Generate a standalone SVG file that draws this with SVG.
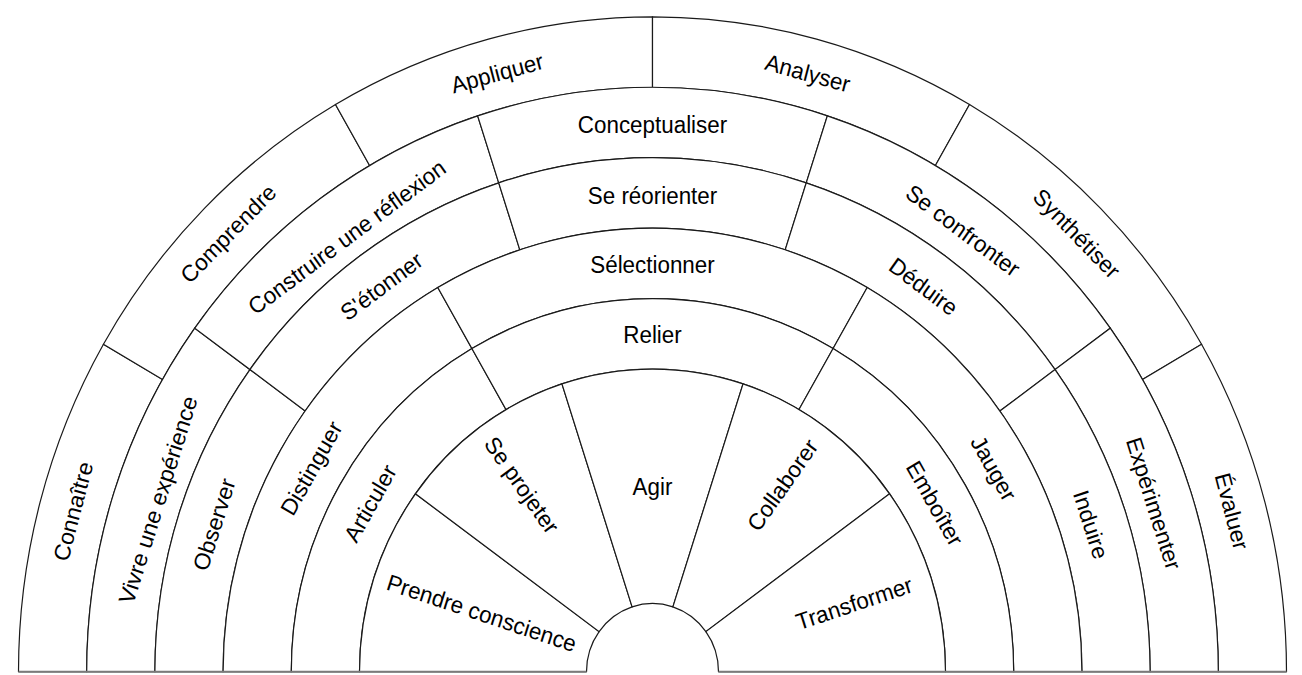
<svg xmlns="http://www.w3.org/2000/svg" width="1302" height="675" viewBox="0 0 1302 675">
<style>
.cell{fill:#fff;stroke:#1a1a1a;stroke-width:1.2;vector-effect:non-scaling-stroke}
.lbl{font-family:"Liberation Sans",Arial,sans-serif;font-size:22.4px;fill:#000;text-anchor:middle}
.base{stroke:#7a7a7a;stroke-width:2;vector-effect:non-scaling-stroke;fill:none}
</style>
<rect width="1302" height="675" fill="#fff"/>
<g transform="translate(652.5,671.7) scale(1,1.033)">
<!-- Ring 6 -->
<g id="connaitre"><path class="cell" d="M-634,0 A634,634 0 0 1 -549.06,-317 L-490,-282.9 A565.8,565.8 0 0 0 -565.8,0 Z"/><text class="lbl" dy="0.35em" transform="translate(-579.45,-155.26) rotate(-75)">Connaître</text></g>
<g id="comprendre"><path class="cell" d="M-549.06,-317 A634,634 0 0 1 -317,-549.06 L-282.9,-490 A565.8,565.8 0 0 0 -490,-282.9 Z"/><text class="lbl" dy="0.35em" transform="translate(-424.2,-424.2) rotate(-45)">Comprendre</text></g>
<g id="appliquer"><path class="cell" d="M-317,-549.06 A634,634 0 0 1 0,-634 L0,-565.8 A565.8,565.8 0 0 0 -282.9,-490 Z"/><text class="lbl" dy="0.35em" transform="translate(-155.26,-579.45) rotate(-15)">Appliquer</text></g>
<g id="analyser"><path class="cell" d="M0,-634 A634,634 0 0 1 317,-549.06 L282.9,-490 A565.8,565.8 0 0 0 0,-565.8 Z"/><text class="lbl" dy="0.35em" transform="translate(155.26,-579.45) rotate(15)">Analyser</text></g>
<g id="synthetiser"><path class="cell" d="M317,-549.06 A634,634 0 0 1 549.06,-317 L490,-282.9 A565.8,565.8 0 0 0 282.9,-490 Z"/><text class="lbl" dy="0.35em" transform="translate(424.2,-424.2) rotate(45)">Synthétiser</text></g>
<g id="evaluer"><path class="cell" d="M549.06,-317 A634,634 0 0 1 634,0 L565.8,0 A565.8,565.8 0 0 0 490,-282.9 Z"/><text class="lbl" dy="0.35em" transform="translate(579.45,-155.26) rotate(75)">Évaluer</text></g>
<!-- Ring 5 -->
<g id="vivre"><path class="cell" d="M-565.8,0 A565.8,565.8 0 0 1 -457.74,-332.57 L-402.57,-292.48 A497.6,497.6 0 0 0 -497.6,0 Z"/><text class="lbl" dy="0.35em" transform="translate(-494.5,-166.3) rotate(-72)">Vivre une expérience</text></g>
<g id="construire"><path class="cell" d="M-457.74,-332.57 A565.8,565.8 0 0 1 -174.84,-538.11 L-153.77,-473.25 A497.6,497.6 0 0 0 -402.57,-292.48 Z"/><text class="lbl" dy="0.35em" transform="translate(-305.6,-420.7) rotate(-36)">Construire une réflexion</text></g>
<g id="conceptualiser"><path class="cell" d="M-174.84,-538.11 A565.8,565.8 0 0 1 174.84,-538.11 L153.77,-473.25 A497.6,497.6 0 0 0 -153.77,-473.25 Z"/><text class="lbl" dy="0.35em" transform="translate(0,-529)">Conceptualiser</text></g>
<g id="seconfronter"><path class="cell" d="M174.84,-538.11 A565.8,565.8 0 0 1 457.74,-332.57 L402.57,-292.48 A497.6,497.6 0 0 0 153.77,-473.25 Z"/><text class="lbl" dy="0.35em" transform="translate(310.4,-427.2) rotate(36)">Se confronter</text></g>
<g id="experimenter"><path class="cell" d="M457.74,-332.57 A565.8,565.8 0 0 1 565.8,0 L497.6,0 A497.6,497.6 0 0 0 402.57,-292.48 Z"/><text class="lbl" dy="0.35em" transform="translate(501.2,-162.9) rotate(72)">Expérimenter</text></g>
<!-- Ring 4 -->
<g id="observer"><path class="cell" d="M-497.6,0 A497.6,497.6 0 0 1 -402.57,-292.48 L-347.39,-252.4 A429.4,429.4 0 0 0 -429.4,0 Z"/><text class="lbl" dy="0.35em" transform="translate(-438.4,-142.5) rotate(-72)">Observer</text></g>
<g id="setonner"><path class="cell" d="M-402.57,-292.48 A497.6,497.6 0 0 1 -153.77,-473.25 L-132.69,-408.38 A429.4,429.4 0 0 0 -347.39,-252.4 Z"/><text class="lbl" dy="0.35em" transform="translate(-271,-373) rotate(-36)">S'étonner</text></g>
<g id="sereorienter"><path class="cell" d="M-153.77,-473.25 A497.6,497.6 0 0 1 153.77,-473.25 L132.69,-408.38 A429.4,429.4 0 0 0 -132.69,-408.38 Z"/><text class="lbl" dy="0.35em" transform="translate(0,-461)">Se réorienter</text></g>
<g id="deduire"><path class="cell" d="M153.77,-473.25 A497.6,497.6 0 0 1 402.57,-292.48 L347.39,-252.4 A429.4,429.4 0 0 0 132.69,-408.38 Z"/><text class="lbl" dy="0.35em" transform="translate(271,-373) rotate(36)">Déduire</text></g>
<g id="induire"><path class="cell" d="M402.57,-292.48 A497.6,497.6 0 0 1 497.6,0 L429.4,0 A429.4,429.4 0 0 0 347.39,-252.4 Z"/><text class="lbl" dy="0.35em" transform="translate(438.4,-142.5) rotate(72)">Induire</text></g>
<!-- Ring 3 -->
<g id="distinguer"><path class="cell" d="M-429.4,0 A429.4,429.4 0 0 1 -214.7,-371.87 L-180.6,-312.81 A361.2,361.2 0 0 0 -361.2,0 Z"/><text class="lbl" dy="0.35em" transform="translate(-341.2,-197) rotate(-60)">Distinguer</text></g>
<g id="selectionner"><path class="cell" d="M-214.7,-371.87 A429.4,429.4 0 0 1 214.7,-371.87 L180.6,-312.81 A361.2,361.2 0 0 0 -180.6,-312.81 Z"/><text class="lbl" dy="0.35em" transform="translate(0,-394)">Sélectionner</text></g>
<g id="jauger"><path class="cell" d="M214.7,-371.87 A429.4,429.4 0 0 1 429.4,0 L361.2,0 A361.2,361.2 0 0 0 180.6,-312.81 Z"/><text class="lbl" dy="0.35em" transform="translate(341.2,-197) rotate(60)">Jauger</text></g>
<!-- Ring 2 -->
<g id="articuler"><path class="cell" d="M-361.2,0 A361.2,361.2 0 0 1 -180.6,-312.81 L-146.5,-253.75 A293,293 0 0 0 -293,0 Z"/><text class="lbl" dy="0.35em" transform="translate(-282.3,-163) rotate(-60)">Articuler</text></g>
<g id="relier"><path class="cell" d="M-180.6,-312.81 A361.2,361.2 0 0 1 180.6,-312.81 L146.5,-253.75 A293,293 0 0 0 -146.5,-253.75 Z"/><text class="lbl" dy="0.35em" transform="translate(0,-326)">Relier</text></g>
<g id="emboiter"><path class="cell" d="M180.6,-312.81 A361.2,361.2 0 0 1 361.2,0 L293,0 A293,293 0 0 0 146.5,-253.75 Z"/><text class="lbl" dy="0.35em" transform="translate(282.3,-163) rotate(60)">Emboîter</text></g>
<!-- Ring 1 -->
<g id="prendreconscience"><path class="cell" d="M-293,0 A293,293 0 0 1 -237.04,-172.22 L-53.39,-38.79 A66,66 0 0 0 -66,0 Z"/><text class="lbl" dy="0.35em" transform="translate(-170.8,-56.8) rotate(18)">Prendre conscience</text></g>
<g id="seprojeter"><path class="cell" d="M-237.04,-172.22 A293,293 0 0 1 -90.54,-278.66 L-20.4,-62.77 A66,66 0 0 0 -53.39,-38.79 Z"/><text class="lbl" dy="0.35em" transform="translate(-130.8,-180.7) rotate(54)">Se projeter</text></g>
<g id="agir"><path class="cell" d="M-90.54,-278.66 A293,293 0 0 1 90.54,-278.66 L20.4,-62.77 A66,66 0 0 0 -20.4,-62.77 Z"/><text class="lbl" dy="0.35em" transform="translate(0,-178.8)">Agir</text></g>
<g id="collaborer"><path class="cell" d="M90.54,-278.66 A293,293 0 0 1 237.04,-172.22 L53.39,-38.79 A66,66 0 0 0 20.4,-62.77 Z"/><text class="lbl" dy="0.35em" transform="translate(130,-180.7) rotate(-54)">Collaborer</text></g>
<g id="transformer"><path class="cell" d="M237.04,-172.22 A293,293 0 0 1 293,0 L66,0 A66,66 0 0 0 53.39,-38.79 Z"/><text class="lbl" dy="0.35em" transform="translate(201.7,-66.2) rotate(-18)">Transformer</text></g>
<path class="base" d="M-634,0 H-66 M66,0 H634"/>
</g>
</svg>
